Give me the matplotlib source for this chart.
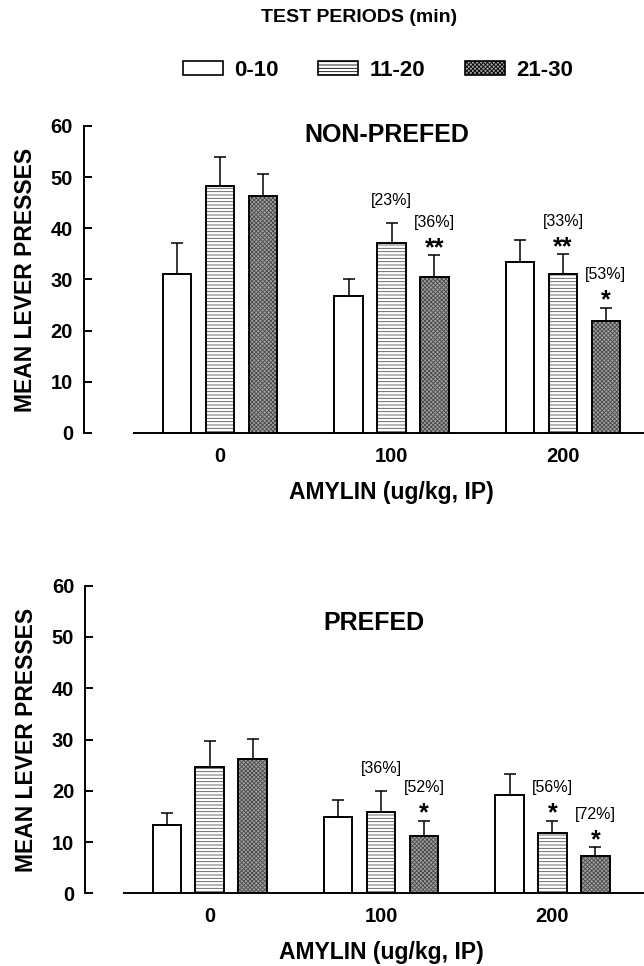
import numpy as np
import matplotlib
matplotlib.use("Agg")
import matplotlib.pyplot as plt
import matplotlib.patches as mpatches

plt.rcParams['font.family'] = ['Liberation Sans', 'DejaVu Sans']
plt.rcParams['hatch.linewidth'] = 0.6

# Daten
doses = ['0', '100', '200']
periods = ['0-10', '11-20', '21-30']

nonprefed_mean = {'0-10': [31.0, 26.8, 33.5],
                  '11-20': [48.3, 37.1, 31.1],
                  '21-30': [46.4, 30.5, 21.8]}
nonprefed_sem = {'0-10': [6.1, 3.3, 4.2],
                 '11-20': [5.7, 4.0, 3.9],
                 '21-30': [4.3, 4.3, 2.7]}
nonprefed_pct = {'0-10': ['', '', ''],
                 '11-20': ['', '[23%]', '[33%]'],
                 '21-30': ['', '[36%]', '[53%]']}
nonprefed_star = {'0-10': ['', '', ''],
                  '11-20': ['', '', '**'],
                  '21-30': ['', '**', '*']}

prefed_mean = {'0-10': [13.3, 14.8, 19.2],
               '11-20': [24.6, 15.8, 11.8],
               '21-30': [26.1, 11.2, 7.3]}
prefed_sem = {'0-10': [2.4, 3.4, 4.0],
              '11-20': [5.1, 4.15, 2.4],
              '21-30': [4.0, 3.0, 1.7]}
prefed_pct = {'0-10': ['', '', ''],
              '11-20': ['', '[36%]', '[56%]'],
              '21-30': ['', '[52%]', '[72%]']}
prefed_star = {'0-10': ['', '', ''],
               '11-20': ['', '', '*'],
               '21-30': ['', '*', '*']}

# Stile der Balken
styles = {'0-10': dict(face='white', hatch=None, hcol='black'),
          '11-20': dict(face='white', hatch='-----', hcol='#555555'),
          '21-30': dict(face='#a0a0a0', hatch='xxxxxxxx', hcol='#4a4a4a')}

W, H = 644, 966
fig = plt.figure(figsize=(W / 100, H / 100), dpi=100)

width = 0.166
step = 0.25


def panel(rect, xlim, means, sems, pcts, stars, title, title_pos):
    ax = fig.add_axes(rect)
    x = np.arange(len(doses))
    for i, p in enumerate(periods):
        pos = x + (i - 1) * step
        st = styles[p]
        if st['hatch']:
            ax.bar(pos, means[p], width, facecolor=st['face'], edgecolor=st['hcol'],
                   hatch=st['hatch'], linewidth=0, zorder=2)
        else:
            ax.bar(pos, means[p], width, facecolor=st['face'], linewidth=0, zorder=2)
        ax.bar(pos, means[p], width, fill=False, edgecolor='black', linewidth=1.4, zorder=3)
        ax.errorbar(pos, means[p], yerr=[np.zeros(len(pos)), sems[p]], fmt='none',
                    ecolor='black', elinewidth=1.1, capsize=4.5, capthick=1.1, zorder=1)
        for j in range(len(doses)):
            top = means[p][j] + sems[p][j]
            if stars[p][j]:
                ax.text(pos[j], top - 1.0, stars[p][j], ha='center', va='bottom',
                        fontsize=18, fontweight='bold')
                yp = top + 6.4
            else:
                yp = top + 4.4
            if pcts[p][j]:
                ax.text(pos[j], yp, pcts[p][j], ha='center', va='center', fontsize=11.5)

    ax.set_xlim(*xlim)
    ax.set_ylim(0, 60)
    ax.set_yticks(range(0, 61, 10))
    ax.set_xticks(x)
    ax.set_xticklabels(doses)
    for s in ['top', 'right']:
        ax.spines[s].set_visible(False)
    ax.spines['left'].set_linewidth(1.4)
    ax.spines['bottom'].set_linewidth(1.4)
    ax.spines['bottom'].set_bounds(-0.5, xlim[1])
    ax.tick_params(axis='y', direction='in', length=6, width=1.4, pad=8,
                   labelsize=14.5)
    ax.tick_params(axis='x', length=0, pad=10, labelsize=14.5)
    for t in ax.get_xticklabels() + ax.get_yticklabels():
        t.set_fontweight('bold')
    ax.patch.set_visible(False)
    ax.text(title_pos[0], title_pos[1], title, transform=ax.transAxes,
            ha='center', va='center', fontsize=18, fontweight='bold')
    ax.annotate('AMYLIN (ug/kg, IP)', xy=(1, 0), xycoords=ax.get_xaxis_transform(),
                xytext=(0, -42.5), textcoords='offset points', ha='center', va='center',
                fontsize=16.5, fontweight='bold')
    ax.annotate('MEAN LEVER PRESSES', xy=(0, 0.5), xycoords='axes fraction',
                xytext=(-42, 0), textcoords='offset points', ha='center', va='center',
                rotation=90, fontsize=16.5, fontweight='bold')
    return ax


# oberes Panel: NON-PREFED
panel([84 / W, 1 - 433 / H, (W - 84) / W, 307 / H], (-0.793, 2.472),
      nonprefed_mean, nonprefed_sem, nonprefed_pct, nonprefed_star,
      'NON-PREFED', (0.540, 0.97))

# unteres Panel: PREFED
panel([85.3 / W, 1 - 893.3 / H, (W - 85.3) / W, 307.6 / H], (-0.726, 2.534),
      prefed_mean, prefed_sem, prefed_pct, prefed_star,
      'PREFED', (0.517, 0.878))

# Legende
fig.text(359 / W, 1 - 18 / H, 'TEST PERIODS (min)', ha='center', va='center',
         fontsize=14, fontweight='bold')
handles = []
for p in periods:
    st = styles[p]
    handles.append(mpatches.Patch(facecolor=st['face'], edgecolor='black',
                                  hatch=st['hatch'], linewidth=1.2, label=p))
leg = fig.legend(handles=handles, loc='center', bbox_to_anchor=(378 / W, 1 - 70 / H),
                 ncol=3, frameon=False, handlelength=1.8, handleheight=0.6,
                 handletextpad=0.5, columnspacing=1.8,
                 prop={'size': 16, 'weight': 'bold'})

fig.savefig('out.png', dpi=100)
